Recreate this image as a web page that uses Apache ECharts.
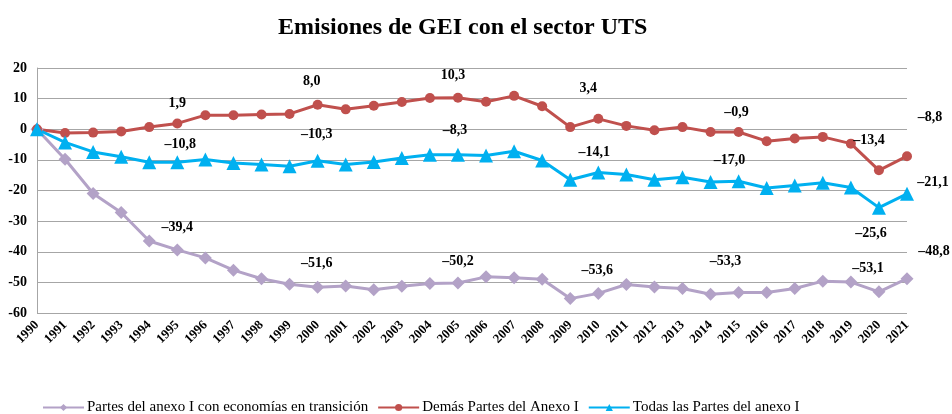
<!DOCTYPE html>
<html>
<head>
<meta charset="utf-8">
<script src="https://cdn.jsdelivr.net/npm/echarts@6/dist/echarts.min.js"></script>
<style>
  html, body { margin: 0; padding: 0; background: #fff; }
  #chart { width: 952px; height: 414px; }
</style>
</head>
<body>
<div id="chart"></div>
<script>
// años del eje X
const years = ['1990', '1991', '1992', '1993', '1994', '1995', '1996', '1997', '1998', '1999',
  '2000', '2001', '2002', '2003', '2004', '2005', '2006', '2007', '2008', '2009',
  '2010', '2011', '2012', '2013', '2014', '2015', '2016', '2017', '2018', '2019',
  '2020', '2021'];

// Partes del anexo I con economías en transición
const transicion = [0, -9.8, -21.0, -27.2, -36.5, -39.4, -42.0, -46.0, -48.8, -50.6,
  -51.6, -51.2, -52.4, -51.3, -50.4, -50.2, -48.2, -48.5, -49.0, -55.3,
  -53.6, -50.7, -51.5, -52.0, -53.9, -53.3, -53.3, -52.0, -49.6, -49.9,
  -53.1, -48.8];

// Demás Partes del Anexo I
const demas = [0, -1.2, -1.1, -0.7, 0.7, 1.9, 4.6, 4.6, 4.8, 5.0,
  8.0, 6.5, 7.7, 8.9, 10.2, 10.3, 9.0, 10.9, 7.5, 0.7,
  3.4, 1.1, -0.3, 0.7, -0.9, -0.9, -3.9, -3.0, -2.5, -4.7,
  -13.4, -8.8];

// Todas las Partes del anexo I
const todas = [0, -4.3, -7.4, -9.0, -10.8, -10.8, -9.9, -11.0, -11.5, -12.1,
  -10.3, -11.5, -10.7, -9.4, -8.3, -8.3, -8.6, -7.2, -10.2, -16.5,
  -14.1, -14.8, -16.5, -15.7, -17.2, -17.0, -19.2, -18.4, -17.5, -19.0,
  -25.6, -21.1];

// años con etiqueta de valor
const labelYears = ['1995', '2000', '2005', '2010', '2015', '2020', '2021'];

const seriesNames = [
  'Partes del anexo I con economías en transición',
  'Demás Partes del Anexo I',
  'Todas las Partes del anexo I'
];

const yTicks = [20, 10, 0, -10, -20, -30, -40, -50, -60];

const serif = '"Liberation Serif", "Times New Roman", serif';

// desplazamiento de cada etiqueta respecto al punto (como en el original)
const offsets = {
  transicion: {'1995': [0, -23], '2000': [-1, -24], '2005': [0, -22], '2010': [-1, -23],
    '2015': [-13, -31], '2020': [-11, -23], '2021': [27, -27]},
  demas: {'1995': [0, -20], '2000': [-6, -23], '2005': [-5, -22], '2010': [-10, -30],
    '2015': [-2, -20], '2020': [-10, -30], '2021': [23, -39]},
  todas: {'1995': [3, -18], '2000': [-1, -26], '2005': [-3, -24], '2010': [-4, -20],
    '2015': [-9, -21], '2020': [-8, 26], '2021': [26, -11]}
};

const fmt = v => v.toFixed(1).replace('.', ',').replace('-', '\u2013');

const withLabels = (values, key) => values.map((v, i) => {
  const y = years[i];
  if (labelYears.indexOf(y) < 0) return v;
  return {
    value: v,
    label: {
      show: true,
      position: 'inside',
      offset: offsets[key][y],
      formatter: () => fmt(v),
      fontFamily: serif,
      fontWeight: 'bold',
      fontSize: 14,
      color: '#000'
    }
  };
});

const chart = echarts.init(document.getElementById('chart'));

const option = {
  animation: false,
  title: {
    text: 'Emisiones de GEI con el sector UTS',
    left: 273,
    top: 11,
    textStyle: {fontFamily: serif, fontWeight: 'bold', fontSize: 24, color: '#000'}
  },
  legend: {
    data: seriesNames,
    left: 42,
    top: 400,
    padding: 0,
    itemWidth: 41,
    itemHeight: 9,
    itemGap: 9,
    textStyle: {fontFamily: serif, fontSize: 15, color: '#000', padding: [0, 0, 0, -2]}
  },
  grid: {left: 37, right: 45, top: 68, bottom: 101},
  xAxis: {
    type: 'category',
    data: years,
    boundaryGap: false,
    axisLine: {onZero: false, show: false},
    axisTick: {show: false},
    axisLabel: {
      rotate: 45,
      interval: 0,
      margin: 10,
      fontFamily: serif,
      fontWeight: 'bold',
      fontSize: 13,
      color: '#000'
    }
  },
  yAxis: {
    type: 'value',
    min: yTicks[yTicks.length - 1],
    max: yTicks[0],
    interval: 10,
    axisLine: {show: true, lineStyle: {color: '#a6a6a6', width: 1}},
    axisTick: {show: false},
    splitLine: {lineStyle: {color: '#a6a6a6', width: 1}},
    axisLabel: {
      margin: 10,
      fontFamily: serif,
      fontWeight: 'bold',
      fontSize: 14,
      color: '#000'
    }
  },
  series: [
    {
      name: seriesNames[0],
      type: 'line',
      data: withLabels(transicion, 'transicion'),
      symbol: 'diamond',
      symbolSize: 13,
      color: '#b3a2c7',
      lineStyle: {width: 3, color: '#b3a2c7'},
      itemStyle: {color: '#b3a2c7'}
    },
    {
      name: seriesNames[1],
      type: 'line',
      data: withLabels(demas, 'demas'),
      symbol: 'circle',
      symbolSize: 10,
      color: '#c0504d',
      lineStyle: {width: 3, color: '#c0504d'},
      itemStyle: {color: '#c0504d'}
    },
    {
      name: seriesNames[2],
      type: 'line',
      data: withLabels(todas, 'todas'),
      symbol: 'triangle',
      symbolSize: 14,
      color: '#00b0f0',
      lineStyle: {width: 3, color: '#00b0f0'},
      itemStyle: {color: '#00b0f0'}
    }
  ]
};

chart.setOption(option);
</script>
</body>
</html>
